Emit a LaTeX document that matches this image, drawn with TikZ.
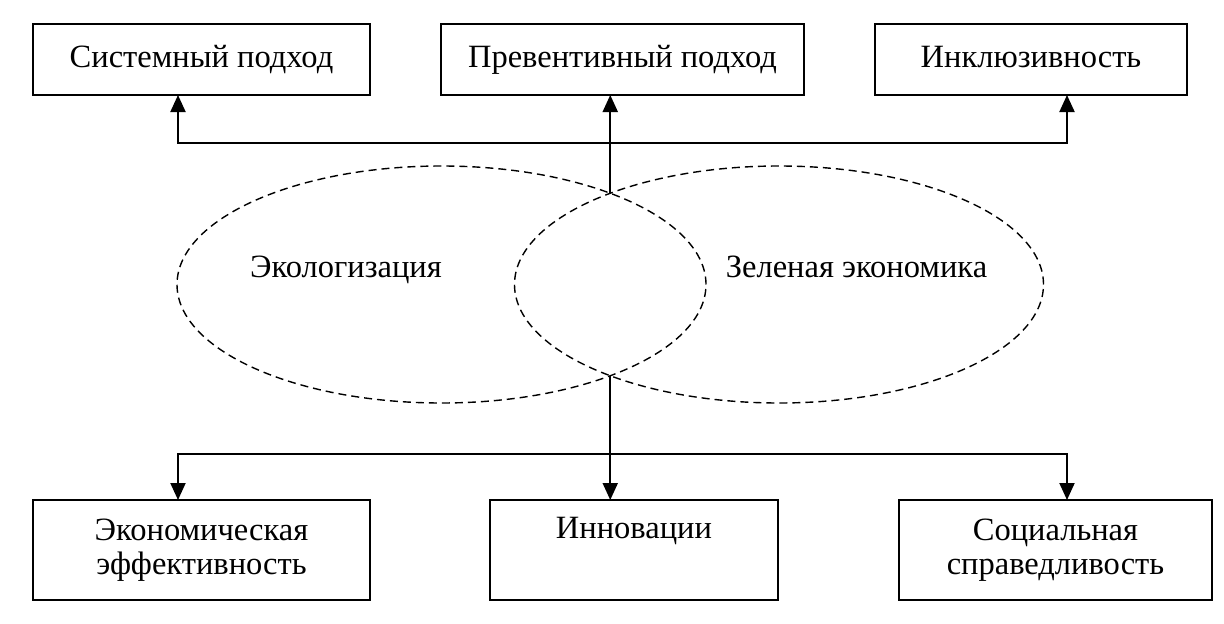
\documentclass[tikz,border=0pt]{standalone}
\usepackage{fontspec}
\setmainfont{Liberation Serif}
\usetikzlibrary{arrows.meta,shapes.geometric}
\begin{document}
\begin{tikzpicture}[x=1pt,y=-1pt,
  txt/.style={font=\fontsize{32.5}{34}\selectfont},
  topbox/.style={txt, draw, line width=1.8pt, inner sep=0pt, outer sep=0pt, minimum height=71pt, text height=22pt, text depth=7pt},
  botbox/.style={txt, draw, line width=1.8pt, inner sep=0pt, outer sep=0pt, minimum height=100pt, align=center},
  oval/.style={ellipse, draw, line width=1.4pt, dash pattern=on 8pt off 5pt, inner sep=0pt, minimum width=529pt, minimum height=237pt},
  conn/.style={line width=2pt, line cap=rect},
  arr/.style={line width=2pt, -{Triangle[width=15pt,length=17pt]}}]
\useasboundingbox (0,0) rectangle (1224,624);
\fill[white] (0,0) rectangle (1224,624);
% top boxes
\node[topbox, minimum width=337pt] (b1) at (201.5,59.5) {Системный подход};
\node[topbox, minimum width=363pt] (b2) at (622.5,59.5) {Превентивный подход};
\node[topbox, minimum width=312pt] (b3) at (1031,59.5) {Инклюзивность};
% bottom boxes
\node[botbox, minimum width=337pt] (b4) at (201.5,550) {Экономическая\\эффективность};
\node[botbox, minimum width=288pt] (b5) at (634,550) {Инновации\\\strut};
\node[botbox, minimum width=313pt] (b6) at (1055.5,550) {Социальная\\справедливость};
% ellipses
\node[oval] (e1) at (441.5,284.5) {};
\node[oval] (e2) at (779,284.5) {};
\node[txt, anchor=base] (t1) at (346,277) {Экологизация};
\node[txt, anchor=base] (t2) at (856.5,277) {Зеленая экономика};
% connector points
\coordinate (hl) at (178,143);
\coordinate (hr) at (1067,143);
\coordinate (xt) at (610.25,193.25);
\coordinate (xb) at (610.25,375.75);
\coordinate (bl) at (178,454);
\coordinate (br) at (1067,454);
% top connectors
\draw[conn] (hl) -- (hr);
\draw[arr] (hl) -- (hl |- b1.south);
\draw[arr] (hr) -- (hr |- b3.south);
\draw[arr] (xt) -- (xt |- b2.south);
% bottom connectors
\draw[conn] (bl) -- (br);
\draw[arr] (bl) -- (bl |- b4.north);
\draw[arr] (br) -- (br |- b6.north);
\draw[arr] (xb) -- (xb |- b5.north);
\end{tikzpicture}
\end{document}
